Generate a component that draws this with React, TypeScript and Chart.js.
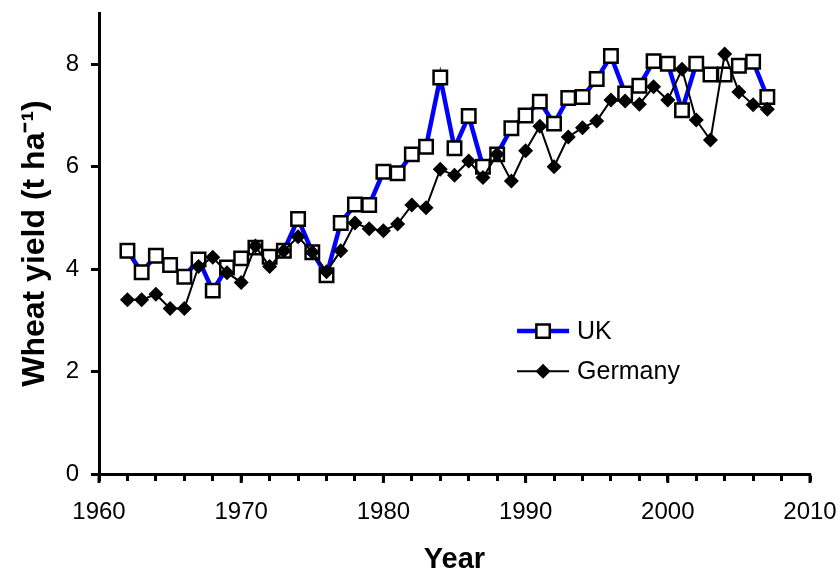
import React, { useEffect, useRef } from "react";
import { Chart, registerables } from "chart.js";

Chart.register(...registerables);

const years = [
  1962, 1963, 1964, 1965, 1966, 1967, 1968, 1969, 1970, 1971, 1972, 1973,
  1974, 1975, 1976, 1977, 1978, 1979, 1980, 1981, 1982, 1983, 1984, 1985,
  1986, 1987, 1988, 1989, 1990, 1991, 1992, 1993, 1994, 1995, 1996, 1997,
  1998, 1999, 2000, 2001, 2002, 2003, 2004, 2005, 2006, 2007,
];

const ukYield = [
  4.36, 3.94, 4.26, 4.08, 3.85, 4.19, 3.58, 4.03, 4.21, 4.42, 4.24, 4.36,
  4.98, 4.33, 3.88, 4.9, 5.26, 5.25, 5.9, 5.87, 6.24, 6.39, 7.74, 6.36,
  6.99, 6.0, 6.24, 6.75, 7.0, 7.27, 6.84, 7.34, 7.36, 7.71, 8.16, 7.43,
  7.58, 8.06, 8.01, 7.1, 8.01, 7.8, 7.8, 7.97, 8.05, 7.36,
];

const germanyYield = [
  3.4, 3.4, 3.51, 3.23, 3.23, 4.05, 4.23, 3.93, 3.74, 4.45, 4.05, 4.36,
  4.63, 4.33, 3.95, 4.36, 4.9, 4.79, 4.75, 4.88, 5.25, 5.2, 5.95, 5.83,
  6.11, 5.79, 6.24, 5.72, 6.31, 6.79, 6.0, 6.58, 6.76, 6.89, 7.3, 7.28,
  7.22, 7.56, 7.3, 7.9, 6.91, 6.52, 8.2, 7.46, 7.21, 7.12,
];

const xTickValues = [
  1960, 1962, 1964, 1966, 1968, 1970, 1972, 1974, 1976, 1978, 1980, 1982,
  1984, 1986, 1988, 1990, 1992, 1994, 1996, 1998, 2000, 2002, 2004, 2006,
  2008, 2010,
];
const xLabelYears = [1960, 1970, 1980, 1990, 2000, 2010];
const yTickValues = [0, 2, 4, 6, 8];

const FONT = "'Liberation Sans', Arial, Helvetica, sans-serif";
const UK_BLUE = "#0000FF";

const insetLegend = {
  id: "insetLegend",
  afterDraw(chart: any) {
    const { ctx, chartArea } = chart;
    const w = chartArea.right - chartArea.left;
    const h = chartArea.bottom - chartArea.top;
    const x0 = chartArea.left + w * 0.588;
    const x1 = x0 + 52;
    const xm = (x0 + x1) / 2;
    const yUK = chartArea.top + h * 0.69;
    const yDE = chartArea.top + h * 0.777;
    ctx.save();
    ctx.strokeStyle = UK_BLUE;
    ctx.lineWidth = 4.5;
    ctx.beginPath();
    ctx.moveTo(x0, yUK);
    ctx.lineTo(x1, yUK);
    ctx.stroke();
    const s = 6.7;
    ctx.fillStyle = "#fff";
    ctx.strokeStyle = "#000";
    ctx.lineWidth = 2.5;
    ctx.beginPath();
    ctx.rect(xm - s, yUK - s, 2 * s, 2 * s);
    ctx.fill();
    ctx.stroke();
    ctx.strokeStyle = "#000";
    ctx.lineWidth = 2;
    ctx.beginPath();
    ctx.moveTo(x0, yDE);
    ctx.lineTo(x1, yDE);
    ctx.stroke();
    const d = 7.5;
    ctx.fillStyle = "#000";
    ctx.beginPath();
    ctx.moveTo(xm, yDE - d);
    ctx.lineTo(xm + d, yDE);
    ctx.lineTo(xm, yDE + d);
    ctx.lineTo(xm - d, yDE);
    ctx.closePath();
    ctx.fill();
    ctx.fillStyle = "#000";
    ctx.font = `25px ${FONT}`;
    ctx.textBaseline = "middle";
    ctx.textAlign = "left";
    ctx.fillText("UK", x1 + 8, yUK + 1);
    ctx.fillText("Germany", x1 + 8, yDE + 1);
    ctx.restore();
  },
};

const majorTicks = {
  id: "majorTicks",
  afterDraw(chart: any) {
    const { ctx } = chart;
    const xs = chart.scales.x;
    ctx.save();
    ctx.strokeStyle = "#000";
    ctx.lineWidth = 3;
    xLabelYears.forEach((v) => {
      const px = xs.getPixelForValue(v);
      ctx.beginPath();
      ctx.moveTo(px, xs.top);
      ctx.lineTo(px, xs.top + 9);
      ctx.stroke();
    });
    ctx.restore();
  },
};

export default function App() {
  const canvasRef = useRef<HTMLCanvasElement | null>(null);

  useEffect(() => {
    document.body.style.margin = "0";
    const canvas = canvasRef.current;
    if (!canvas) return;
    const chart = new Chart(canvas, {
      type: "line",
      data: {
        datasets: [
          {
            label: "UK",
            data: years.map((yr, i) => ({ x: yr, y: ukYield[i] })),
            borderColor: UK_BLUE,
            borderWidth: 4.5,
            pointStyle: "rect",
            pointRadius: 9.5,
            pointHoverRadius: 9.5,
            pointBorderWidth: 2.5,
            pointBackgroundColor: "#ffffff",
            pointBorderColor: "#000000",
            tension: 0,
            order: 2,
          },
          {
            label: "Germany",
            data: years.map((yr, i) => ({ x: yr, y: germanyYield[i] })),
            borderColor: "#000000",
            borderWidth: 2,
            pointStyle: "rectRot",
            pointRadius: 7.5,
            pointHoverRadius: 7.5,
            pointBorderWidth: 0,
            pointBackgroundColor: "#000000",
            pointBorderColor: "#000000",
            tension: 0,
            order: 1,
          },
        ],
      },
      options: {
        animation: false,
        responsive: false,
        maintainAspectRatio: false,
        layout: { padding: { left: 0, right: 30, top: 13, bottom: 0 } },
        plugins: {
          legend: { display: false },
          tooltip: { enabled: false },
        },
        scales: {
          x: {
            type: "linear",
            min: 1960,
            max: 2010,
            afterBuildTicks: (s: any) => {
              s.ticks = xTickValues.map((v) => ({ value: v }));
            },
            afterFit: (s: any) => {
              s.height = 100;
              s.paddingLeft = 0;
              s.paddingRight = 0;
            },
            ticks: {
              autoSkip: false,
              maxRotation: 0,
              minRotation: 0,
              padding: 17,
              color: "#000",
              font: { family: FONT, size: 24 },
              callback: (v: any) =>
                xLabelYears.includes(Number(v)) ? String(v) : "",
            },
            grid: {
              drawOnChartArea: false,
              drawTicks: true,
              tickLength: 7,
              tickWidth: 3,
              tickColor: "#000",
            },
            border: { display: true, color: "#000", width: 3 },
            title: {
              display: true,
              text: "Year",
              color: "#000",
              font: { family: FONT, size: 29, weight: "bold", lineHeight: 1 },
              padding: { top: 0, bottom: 0 },
            },
          },
          y: {
            type: "linear",
            min: 0,
            max: 9,
            afterBuildTicks: (s: any) => {
              s.ticks = yTickValues.map((v) => ({ value: v }));
            },
            afterFit: (s: any) => {
              s.width = 99;
              s.paddingTop = 0;
              s.paddingBottom = 0;
            },
            ticks: {
              padding: 12,
              color: "#000",
              font: { family: FONT, size: 24 },
            },
            grid: {
              drawOnChartArea: false,
              drawTicks: true,
              tickLength: 8,
              tickWidth: 3,
              tickColor: "#000",
            },
            border: { display: true, color: "#000", width: 3 },
            title: {
              display: true,
              text: "Wheat yield (t ha⁻¹)",
              color: "#000",
              font: { family: FONT, size: 32, weight: "bold", lineHeight: 1 },
              padding: { top: 19, bottom: 0 },
            },
          },
        },
      },
      plugins: [insetLegend, majorTicks],
    });
    return () => chart.destroy();
  }, []);

  return (
    <div style={{ width: 840, height: 574 }}>
      <canvas ref={canvasRef} width={840} height={574} />
    </div>
  );
}
